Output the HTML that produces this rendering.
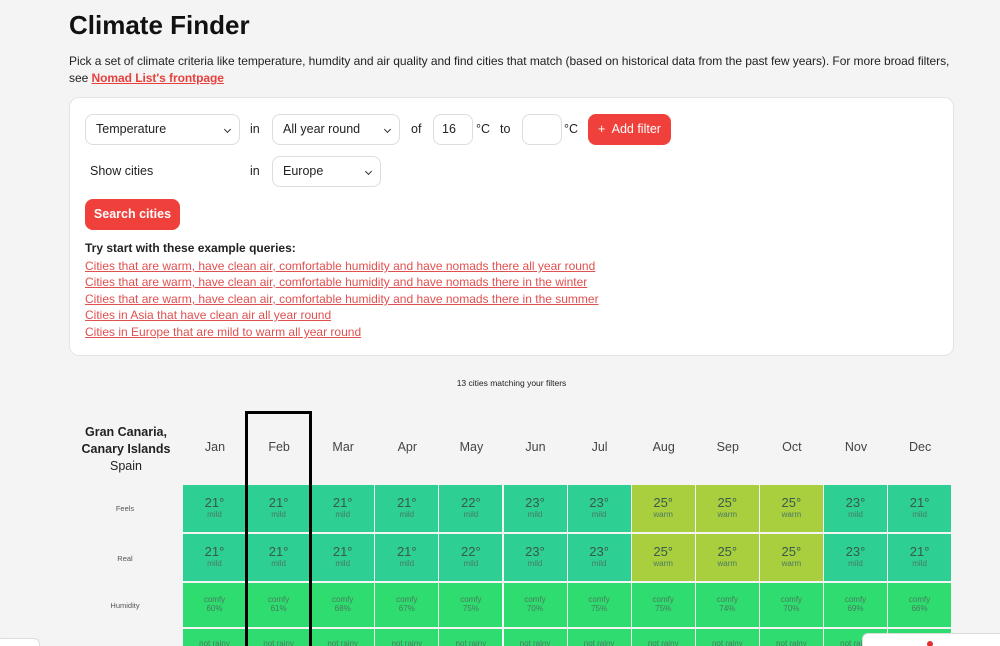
<!DOCTYPE html>
<html><head><meta charset="utf-8"><style>
*{box-sizing:border-box}
html,body{margin:0;width:1000px;height:646px;overflow:hidden}
body{background:#f4f4f4;font-family:"Liberation Sans",sans-serif;color:#222;position:relative}
.a{position:absolute}
h1{position:absolute;left:69px;top:10px;margin:0;font-size:26px;font-weight:bold;color:#111}
.p{left:69px;top:53px;width:885px;font-size:12px;line-height:17px;color:#222;letter-spacing:-0.05px}
.p a{color:#e8403c;font-weight:bold;text-decoration:underline}
.card{left:69px;top:97px;width:885px;height:259px;background:#fff;border:1px solid #e4e4e4;border-radius:10px}
.sel{position:absolute;background:#fff;border:1px solid #ddd;border-radius:8px;font-size:12.5px;padding-left:10px;line-height:29px;height:31px}
.chev{position:absolute;right:9px;top:12px;width:5px;height:5px;border-right:1.5px solid #333;border-bottom:1.5px solid #333;transform:rotate(45deg)}
.t{position:absolute;font-size:12.5px}
.btn{position:absolute;background:#f0403c;color:#fff;border-radius:8px;font-size:12.5px;text-align:center}
.lk{position:absolute;left:85px;font-size:12px;color:#e05050;text-decoration:underline}
.c{position:absolute;width:63px;text-align:center;color:#3a5a4a;overflow:hidden}
.c b{display:block;font-weight:normal;font-size:13px;margin-top:10px}
.c i{display:block;font-style:normal;font-size:8px;color:#4a7a60}
.m{font-size:12.5px;color:#444;text-align:center;position:absolute;width:64px;top:440px}
.rl{position:absolute;left:90px;width:70px;text-align:center;font-size:7.5px;color:#555}
</style></head><body>
<h1>Climate Finder</h1>
<div class="a p">Pick a set of climate criteria like temperature, humdity and air quality and find cities that match (based on historical data from the past few years). For more broad filters, see <a>Nomad List's frontpage</a></div>
<div class="a card"></div>
<div class="sel" style="left:85px;top:114px;width:155px">Temperature<span class="chev"></span></div>
<div class="t" style="left:250px;top:122px">in</div>
<div class="sel" style="left:272px;top:114px;width:128px">All year round<span class="chev"></span></div>
<div class="t" style="left:411px;top:122px">of</div>
<div class="sel" style="left:433px;top:114px;width:40px;padding-left:8px">16</div>
<div class="t" style="left:476px;top:122px">°C</div>
<div class="t" style="left:500px;top:122px">to</div>
<div class="sel" style="left:522px;top:114px;width:40px"></div>
<div class="t" style="left:564px;top:122px">°C</div>
<div class="btn" style="left:588px;top:114px;width:83px;height:31px;line-height:31px">+&nbsp; Add filter</div>
<div class="t" style="left:90px;top:164px">Show cities</div>
<div class="t" style="left:250px;top:164px">in</div>
<div class="sel" style="left:272px;top:156px;width:109px">Europe<span class="chev"></span></div>
<div class="btn" style="left:85px;top:199px;width:95px;height:31px;line-height:31px;font-weight:bold">Search cities</div>
<div class="t" style="left:85px;top:241px;font-weight:bold;font-size:12px">Try start with these example queries:</div>
<div class="lk" style="top:259px">Cities that are warm, have clean air, comfortable humidity and have nomads there all year round</div>
<div class="lk" style="top:275px">Cities that are warm, have clean air, comfortable humidity and have nomads there in the winter</div>
<div class="lk" style="top:292px">Cities that are warm, have clean air, comfortable humidity and have nomads there in the summer</div>
<div class="lk" style="top:308px">Cities in Asia that have clean air all year round</div>
<div class="lk" style="top:325px">Cities in Europe that are mild to warm all year round</div>
<div class="t" style="left:0;width:1023px;text-align:center;top:378px;font-size:8.5px">13 cities matching your filters</div>
<div class="a" style="left:70px;top:424px;width:112px;text-align:center;font-size:12.5px;line-height:17px"><b>Gran Canaria,<br>Canary Islands</b><br>Spain</div>
<div id="g"></div>
<div class="rl" style="top:504px">Feels</div>
<div class="rl" style="top:554px">Real</div>
<div class="rl" style="top:601px">Humidity</div>
<div class="a" style="left:245px;top:411px;width:67px;height:240px;border:3px solid #000"></div>
<div class="a" style="left:-5px;top:638px;width:45px;height:20px;background:#fff;border:1px solid #ddd;border-radius:6px"></div>
<div class="a" style="left:862px;top:633px;width:140px;height:20px;background:#fff;border:1px solid #ddd;border-radius:6px 0 0 0"></div>
<div class="a" style="left:927px;top:641px;width:6px;height:6px;background:#e03030;border-radius:50%"></div>
<script>
var M=["Jan","Feb","Mar","Apr","May","Jun","Jul","Aug","Sep","Oct","Nov","Dec"],T=[21,21,21,21,22,23,23,25,25,25,23,21],H=[60,61,68,67,75,70,75,75,74,70,69,66],h="";
for(var i=0;i<12;i++){var x=183+i*64.1,w=T[i]>=25;var bg=w?"#a9cf3f":"#2ecf93",lab=w?"warm":"mild";
h+='<div class="m" style="left:'+x+'px">'+M[i]+'</div>';
h+='<div class="c" style="left:'+x+'px;top:485px;height:47px;background:'+bg+'"><b>'+T[i]+'°</b><i>'+lab+'</i></div>';
h+='<div class="c" style="left:'+x+'px;top:534px;height:47px;background:'+bg+'"><b>'+T[i]+'°</b><i>'+lab+'</i></div>';
h+='<div class="c" style="left:'+x+'px;top:583px;height:44px;background:#2fdc6f"><i style="margin-top:12px">comfy</i><i>'+H[i]+'%</i></div>';
h+='<div class="c" style="left:'+x+'px;top:629px;height:20px;background:#2fdc6f"><i style="margin-top:10px">not rainy</i></div>';}
document.getElementById("g").innerHTML=h;
</script>
</body></html>
